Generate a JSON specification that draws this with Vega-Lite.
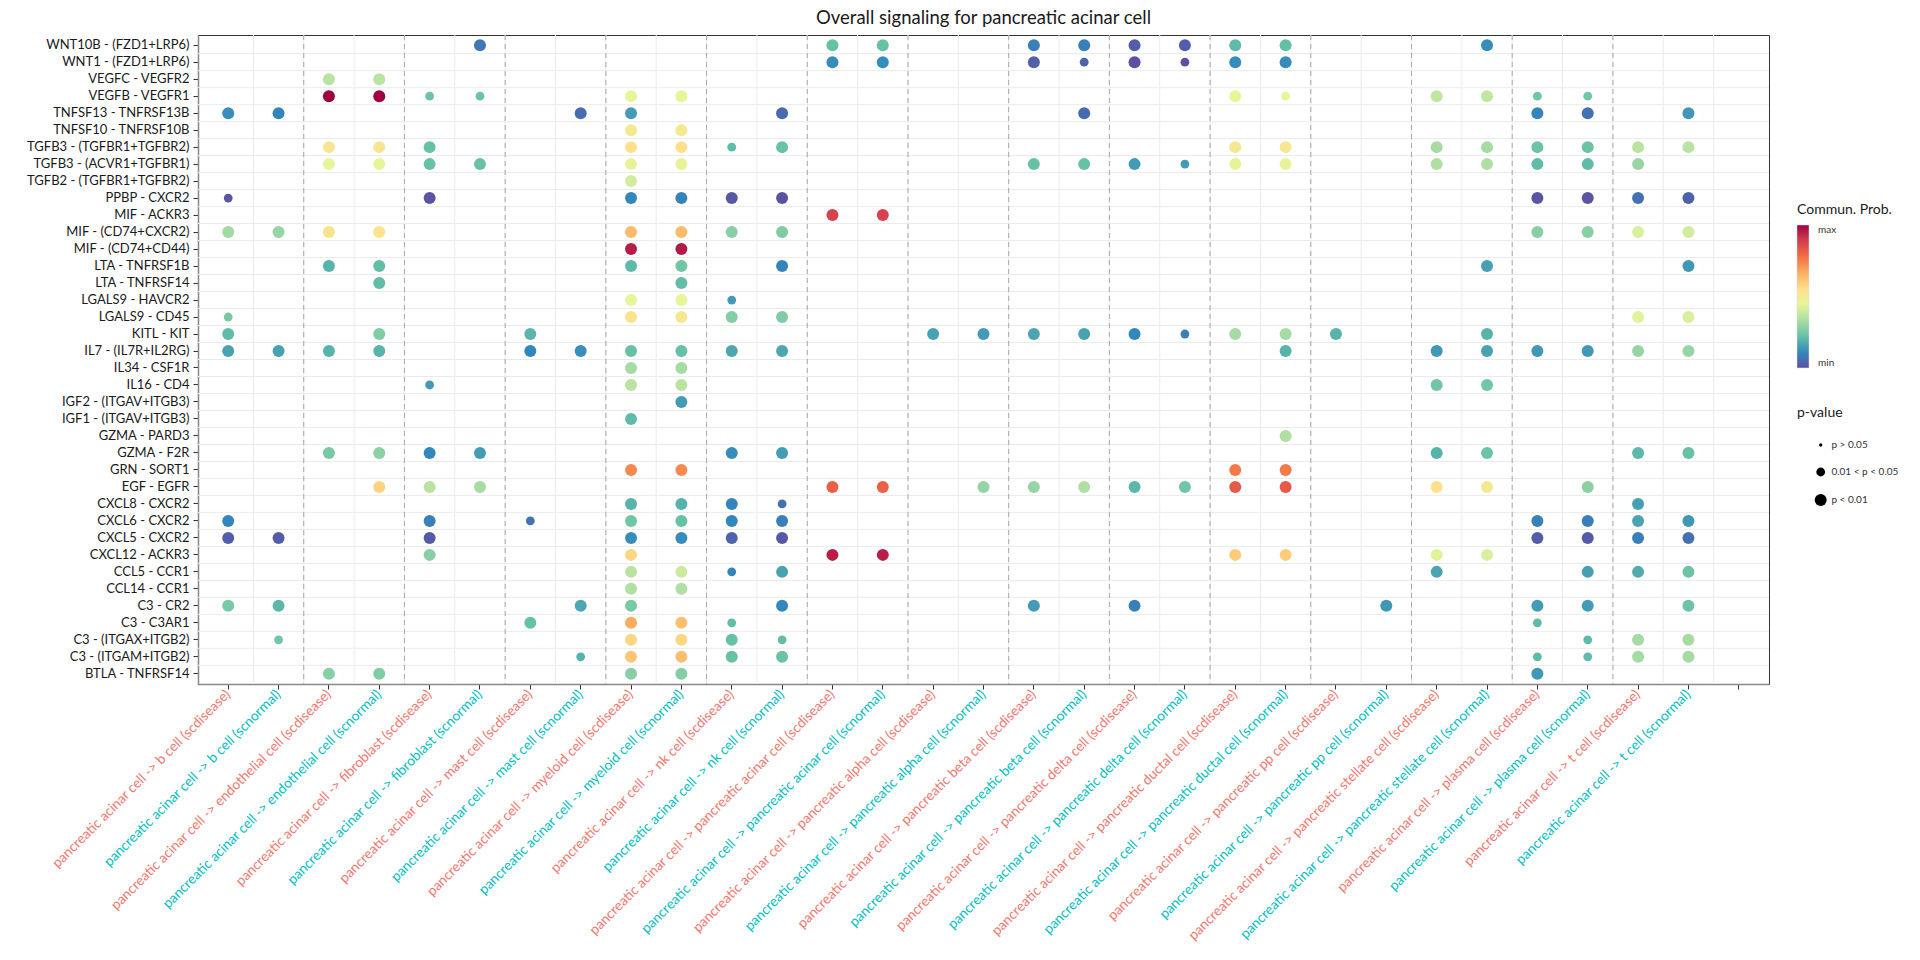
{
  "$schema": "https://vega.github.io/schema/vega-lite/v6.json",
  "width": 1571,
  "height": 649,
  "autosize": {"type": "none"},
  "padding": {"left": 198, "top": 35, "right": 151, "bottom": 276},
  "background": "white",
  "title": {
    "text": "Overall signaling for pancreatic acinar cell",
    "anchor": "middle",
    "frame": "group",
    "fontSize": 18.5,
    "fontWeight": "normal",
    "color": "#1a1a1a",
    "offset": 7
  },
  "datasets": {
    "pairs": [
      "pancreatic acinar cell -> b cell (scdisease)",
      "pancreatic acinar cell -> b cell (scnormal)",
      "pancreatic acinar cell -> endothelial cell (scdisease)",
      "pancreatic acinar cell -> endothelial cell (scnormal)",
      "pancreatic acinar cell -> fibroblast (scdisease)",
      "pancreatic acinar cell -> fibroblast (scnormal)",
      "pancreatic acinar cell -> mast cell (scdisease)",
      "pancreatic acinar cell -> mast cell (scnormal)",
      "pancreatic acinar cell -> myeloid cell (scdisease)",
      "pancreatic acinar cell -> myeloid cell (scnormal)",
      "pancreatic acinar cell -> nk cell (scdisease)",
      "pancreatic acinar cell -> nk cell (scnormal)",
      "pancreatic acinar cell -> pancreatic acinar cell (scdisease)",
      "pancreatic acinar cell -> pancreatic acinar cell (scnormal)",
      "pancreatic acinar cell -> pancreatic alpha cell (scdisease)",
      "pancreatic acinar cell -> pancreatic alpha cell (scnormal)",
      "pancreatic acinar cell -> pancreatic beta cell (scdisease)",
      "pancreatic acinar cell -> pancreatic beta cell (scnormal)",
      "pancreatic acinar cell -> pancreatic delta cell (scdisease)",
      "pancreatic acinar cell -> pancreatic delta cell (scnormal)",
      "pancreatic acinar cell -> pancreatic ductal cell (scdisease)",
      "pancreatic acinar cell -> pancreatic ductal cell (scnormal)",
      "pancreatic acinar cell -> pancreatic pp cell (scdisease)",
      "pancreatic acinar cell -> pancreatic pp cell (scnormal)",
      "pancreatic acinar cell -> pancreatic stellate cell (scdisease)",
      "pancreatic acinar cell -> pancreatic stellate cell (scnormal)",
      "pancreatic acinar cell -> plasma cell (scdisease)",
      "pancreatic acinar cell -> plasma cell (scnormal)",
      "pancreatic acinar cell -> t cell (scdisease)",
      "pancreatic acinar cell -> t cell (scnormal)"
    ],
    "groupEnds": [
      "pancreatic acinar cell -> b cell (scnormal)",
      "pancreatic acinar cell -> endothelial cell (scnormal)",
      "pancreatic acinar cell -> fibroblast (scnormal)",
      "pancreatic acinar cell -> mast cell (scnormal)",
      "pancreatic acinar cell -> myeloid cell (scnormal)",
      "pancreatic acinar cell -> nk cell (scnormal)",
      "pancreatic acinar cell -> pancreatic acinar cell (scnormal)",
      "pancreatic acinar cell -> pancreatic alpha cell (scnormal)",
      "pancreatic acinar cell -> pancreatic beta cell (scnormal)",
      "pancreatic acinar cell -> pancreatic delta cell (scnormal)",
      "pancreatic acinar cell -> pancreatic ductal cell (scnormal)",
      "pancreatic acinar cell -> pancreatic pp cell (scnormal)",
      "pancreatic acinar cell -> pancreatic stellate cell (scnormal)",
      "pancreatic acinar cell -> plasma cell (scnormal)"
    ],
    "lrRows": [
      "WNT10B - (FZD1+LRP6)", "WNT1 - (FZD1+LRP6)", "VEGFC - VEGFR2", "VEGFB - VEGFR1",
      "TNFSF13 - TNFRSF13B", "TNFSF10 - TNFRSF10B", "TGFB3 - (TGFBR1+TGFBR2)", "TGFB3 - (ACVR1+TGFBR1)",
      "TGFB2 - (TGFBR1+TGFBR2)", "PPBP - CXCR2", "MIF - ACKR3", "MIF - (CD74+CXCR2)", "MIF - (CD74+CD44)",
      "LTA - TNFRSF1B", "LTA - TNFRSF14", "LGALS9 - HAVCR2", "LGALS9 - CD45", "KITL - KIT",
      "IL7 - (IL7R+IL2RG)", "IL34 - CSF1R", "IL16 - CD4", "IGF2 - (ITGAV+ITGB3)", "IGF1 - (ITGAV+ITGB3)",
      "GZMA - PARD3", "GZMA - F2R", "GRN - SORT1", "EGF - EGFR", "CXCL8 - CXCR2", "CXCL6 - CXCR2",
      "CXCL5 - CXCR2", "CXCL12 - ACKR3", "CCL5 - CCR1", "CCL14 - CCR1", "C3 - CR2", "C3 - C3AR1",
      "C3 - (ITGAX+ITGB2)", "C3 - (ITGAM+ITGB2)"
    ],
    "bubbles": [
      {"lr": "WNT10B - (FZD1+LRP6)", "st": "pancreatic acinar cell -> fibroblast (scnormal)", "prob": 0.08, "pval": "p < 0.01"},
      {"lr": "WNT10B - (FZD1+LRP6)", "st": "pancreatic acinar cell -> pancreatic acinar cell (scdisease)", "prob": 0.222, "pval": "p < 0.01"},
      {"lr": "WNT10B - (FZD1+LRP6)", "st": "pancreatic acinar cell -> pancreatic acinar cell (scnormal)", "prob": 0.222, "pval": "p < 0.01"},
      {"lr": "WNT10B - (FZD1+LRP6)", "st": "pancreatic acinar cell -> pancreatic beta cell (scdisease)", "prob": 0.093, "pval": "p < 0.01"},
      {"lr": "WNT10B - (FZD1+LRP6)", "st": "pancreatic acinar cell -> pancreatic beta cell (scnormal)", "prob": 0.094, "pval": "p < 0.01"},
      {"lr": "WNT10B - (FZD1+LRP6)", "st": "pancreatic acinar cell -> pancreatic delta cell (scdisease)", "prob": 0.03, "pval": "p < 0.01"},
      {"lr": "WNT10B - (FZD1+LRP6)", "st": "pancreatic acinar cell -> pancreatic delta cell (scnormal)", "prob": 0.03, "pval": "p < 0.01"},
      {"lr": "WNT10B - (FZD1+LRP6)", "st": "pancreatic acinar cell -> pancreatic ductal cell (scdisease)", "prob": 0.21, "pval": "p < 0.01"},
      {"lr": "WNT10B - (FZD1+LRP6)", "st": "pancreatic acinar cell -> pancreatic ductal cell (scnormal)", "prob": 0.217, "pval": "p < 0.01"},
      {"lr": "WNT10B - (FZD1+LRP6)", "st": "pancreatic acinar cell -> pancreatic stellate cell (scnormal)", "prob": 0.119, "pval": "p < 0.01"},

      {"lr": "WNT1 - (FZD1+LRP6)", "st": "pancreatic acinar cell -> pancreatic acinar cell (scdisease)", "prob": 0.119, "pval": "p < 0.01"},
      {"lr": "WNT1 - (FZD1+LRP6)", "st": "pancreatic acinar cell -> pancreatic acinar cell (scnormal)", "prob": 0.119, "pval": "p < 0.01"},
      {"lr": "WNT1 - (FZD1+LRP6)", "st": "pancreatic acinar cell -> pancreatic beta cell (scdisease)", "prob": 0.033, "pval": "p < 0.01"},
      {"lr": "WNT1 - (FZD1+LRP6)", "st": "pancreatic acinar cell -> pancreatic beta cell (scnormal)", "prob": 0.033, "pval": "0.01 < p < 0.05"},
      {"lr": "WNT1 - (FZD1+LRP6)", "st": "pancreatic acinar cell -> pancreatic delta cell (scdisease)", "prob": 0.0, "pval": "p < 0.01"},
      {"lr": "WNT1 - (FZD1+LRP6)", "st": "pancreatic acinar cell -> pancreatic delta cell (scnormal)", "prob": 0.0, "pval": "0.01 < p < 0.05"},
      {"lr": "WNT1 - (FZD1+LRP6)", "st": "pancreatic acinar cell -> pancreatic ductal cell (scdisease)", "prob": 0.119, "pval": "p < 0.01"},
      {"lr": "WNT1 - (FZD1+LRP6)", "st": "pancreatic acinar cell -> pancreatic ductal cell (scnormal)", "prob": 0.119, "pval": "p < 0.01"},

      {"lr": "VEGFC - VEGFR2", "st": "pancreatic acinar cell -> endothelial cell (scdisease)", "prob": 0.36, "pval": "p < 0.01"},
      {"lr": "VEGFC - VEGFR2", "st": "pancreatic acinar cell -> endothelial cell (scnormal)", "prob": 0.36, "pval": "p < 0.01"},

      {"lr": "VEGFB - VEGFR1", "st": "pancreatic acinar cell -> endothelial cell (scdisease)", "prob": 1.0, "pval": "p < 0.01"},
      {"lr": "VEGFB - VEGFR1", "st": "pancreatic acinar cell -> endothelial cell (scnormal)", "prob": 1.0, "pval": "p < 0.01"},
      {"lr": "VEGFB - VEGFR1", "st": "pancreatic acinar cell -> fibroblast (scdisease)", "prob": 0.235, "pval": "0.01 < p < 0.05"},
      {"lr": "VEGFB - VEGFR1", "st": "pancreatic acinar cell -> fibroblast (scnormal)", "prob": 0.232, "pval": "0.01 < p < 0.05"},
      {"lr": "VEGFB - VEGFR1", "st": "pancreatic acinar cell -> myeloid cell (scdisease)", "prob": 0.444, "pval": "p < 0.01"},
      {"lr": "VEGFB - VEGFR1", "st": "pancreatic acinar cell -> myeloid cell (scnormal)", "prob": 0.444, "pval": "p < 0.01"},
      {"lr": "VEGFB - VEGFR1", "st": "pancreatic acinar cell -> pancreatic ductal cell (scdisease)", "prob": 0.444, "pval": "p < 0.01"},
      {"lr": "VEGFB - VEGFR1", "st": "pancreatic acinar cell -> pancreatic ductal cell (scnormal)", "prob": 0.444, "pval": "0.01 < p < 0.05"},
      {"lr": "VEGFB - VEGFR1", "st": "pancreatic acinar cell -> pancreatic stellate cell (scdisease)", "prob": 0.373, "pval": "p < 0.01"},
      {"lr": "VEGFB - VEGFR1", "st": "pancreatic acinar cell -> pancreatic stellate cell (scnormal)", "prob": 0.373, "pval": "p < 0.01"},
      {"lr": "VEGFB - VEGFR1", "st": "pancreatic acinar cell -> plasma cell (scdisease)", "prob": 0.238, "pval": "0.01 < p < 0.05"},
      {"lr": "VEGFB - VEGFR1", "st": "pancreatic acinar cell -> plasma cell (scnormal)", "prob": 0.243, "pval": "0.01 < p < 0.05"},

      {"lr": "TNFSF13 - TNFRSF13B", "st": "pancreatic acinar cell -> b cell (scdisease)", "prob": 0.125, "pval": "p < 0.01"},
      {"lr": "TNFSF13 - TNFRSF13B", "st": "pancreatic acinar cell -> b cell (scnormal)", "prob": 0.105, "pval": "p < 0.01"},
      {"lr": "TNFSF13 - TNFRSF13B", "st": "pancreatic acinar cell -> mast cell (scnormal)", "prob": 0.058, "pval": "p < 0.01"},
      {"lr": "TNFSF13 - TNFRSF13B", "st": "pancreatic acinar cell -> myeloid cell (scdisease)", "prob": 0.148, "pval": "p < 0.01"},
      {"lr": "TNFSF13 - TNFRSF13B", "st": "pancreatic acinar cell -> nk cell (scnormal)", "prob": 0.055, "pval": "p < 0.01"},
      {"lr": "TNFSF13 - TNFRSF13B", "st": "pancreatic acinar cell -> pancreatic beta cell (scnormal)", "prob": 0.052, "pval": "p < 0.01"},
      {"lr": "TNFSF13 - TNFRSF13B", "st": "pancreatic acinar cell -> plasma cell (scdisease)", "prob": 0.105, "pval": "p < 0.01"},
      {"lr": "TNFSF13 - TNFRSF13B", "st": "pancreatic acinar cell -> plasma cell (scnormal)", "prob": 0.064, "pval": "p < 0.01"},
      {"lr": "TNFSF13 - TNFRSF13B", "st": "pancreatic acinar cell -> t cell (scnormal)", "prob": 0.142, "pval": "p < 0.01"},

      {"lr": "TNFSF10 - TNFRSF10B", "st": "pancreatic acinar cell -> myeloid cell (scdisease)", "prob": 0.51, "pval": "p < 0.01"},
      {"lr": "TNFSF10 - TNFRSF10B", "st": "pancreatic acinar cell -> myeloid cell (scnormal)", "prob": 0.51, "pval": "p < 0.01"},

      {"lr": "TGFB3 - (TGFBR1+TGFBR2)", "st": "pancreatic acinar cell -> endothelial cell (scdisease)", "prob": 0.523, "pval": "p < 0.01"},
      {"lr": "TGFB3 - (TGFBR1+TGFBR2)", "st": "pancreatic acinar cell -> endothelial cell (scnormal)", "prob": 0.523, "pval": "p < 0.01"},
      {"lr": "TGFB3 - (TGFBR1+TGFBR2)", "st": "pancreatic acinar cell -> fibroblast (scdisease)", "prob": 0.222, "pval": "p < 0.01"},
      {"lr": "TGFB3 - (TGFBR1+TGFBR2)", "st": "pancreatic acinar cell -> myeloid cell (scdisease)", "prob": 0.556, "pval": "p < 0.01"},
      {"lr": "TGFB3 - (TGFBR1+TGFBR2)", "st": "pancreatic acinar cell -> myeloid cell (scnormal)", "prob": 0.556, "pval": "p < 0.01"},
      {"lr": "TGFB3 - (TGFBR1+TGFBR2)", "st": "pancreatic acinar cell -> nk cell (scdisease)", "prob": 0.212, "pval": "0.01 < p < 0.05"},
      {"lr": "TGFB3 - (TGFBR1+TGFBR2)", "st": "pancreatic acinar cell -> nk cell (scnormal)", "prob": 0.225, "pval": "p < 0.01"},
      {"lr": "TGFB3 - (TGFBR1+TGFBR2)", "st": "pancreatic acinar cell -> pancreatic ductal cell (scdisease)", "prob": 0.513, "pval": "p < 0.01"},
      {"lr": "TGFB3 - (TGFBR1+TGFBR2)", "st": "pancreatic acinar cell -> pancreatic ductal cell (scnormal)", "prob": 0.513, "pval": "p < 0.01"},
      {"lr": "TGFB3 - (TGFBR1+TGFBR2)", "st": "pancreatic acinar cell -> pancreatic stellate cell (scdisease)", "prob": 0.325, "pval": "p < 0.01"},
      {"lr": "TGFB3 - (TGFBR1+TGFBR2)", "st": "pancreatic acinar cell -> pancreatic stellate cell (scnormal)", "prob": 0.325, "pval": "p < 0.01"},
      {"lr": "TGFB3 - (TGFBR1+TGFBR2)", "st": "pancreatic acinar cell -> plasma cell (scdisease)", "prob": 0.232, "pval": "p < 0.01"},
      {"lr": "TGFB3 - (TGFBR1+TGFBR2)", "st": "pancreatic acinar cell -> plasma cell (scnormal)", "prob": 0.232, "pval": "p < 0.01"},
      {"lr": "TGFB3 - (TGFBR1+TGFBR2)", "st": "pancreatic acinar cell -> t cell (scdisease)", "prob": 0.361, "pval": "p < 0.01"},
      {"lr": "TGFB3 - (TGFBR1+TGFBR2)", "st": "pancreatic acinar cell -> t cell (scnormal)", "prob": 0.36, "pval": "p < 0.01"},

      {"lr": "TGFB3 - (ACVR1+TGFBR1)", "st": "pancreatic acinar cell -> endothelial cell (scdisease)", "prob": 0.45, "pval": "p < 0.01"},
      {"lr": "TGFB3 - (ACVR1+TGFBR1)", "st": "pancreatic acinar cell -> endothelial cell (scnormal)", "prob": 0.45, "pval": "p < 0.01"},
      {"lr": "TGFB3 - (ACVR1+TGFBR1)", "st": "pancreatic acinar cell -> fibroblast (scdisease)", "prob": 0.222, "pval": "p < 0.01"},
      {"lr": "TGFB3 - (ACVR1+TGFBR1)", "st": "pancreatic acinar cell -> fibroblast (scnormal)", "prob": 0.225, "pval": "p < 0.01"},
      {"lr": "TGFB3 - (ACVR1+TGFBR1)", "st": "pancreatic acinar cell -> myeloid cell (scdisease)", "prob": 0.455, "pval": "p < 0.01"},
      {"lr": "TGFB3 - (ACVR1+TGFBR1)", "st": "pancreatic acinar cell -> myeloid cell (scnormal)", "prob": 0.455, "pval": "p < 0.01"},
      {"lr": "TGFB3 - (ACVR1+TGFBR1)", "st": "pancreatic acinar cell -> pancreatic beta cell (scdisease)", "prob": 0.222, "pval": "p < 0.01"},
      {"lr": "TGFB3 - (ACVR1+TGFBR1)", "st": "pancreatic acinar cell -> pancreatic beta cell (scnormal)", "prob": 0.222, "pval": "p < 0.01"},
      {"lr": "TGFB3 - (ACVR1+TGFBR1)", "st": "pancreatic acinar cell -> pancreatic delta cell (scdisease)", "prob": 0.148, "pval": "p < 0.01"},
      {"lr": "TGFB3 - (ACVR1+TGFBR1)", "st": "pancreatic acinar cell -> pancreatic delta cell (scnormal)", "prob": 0.148, "pval": "0.01 < p < 0.05"},
      {"lr": "TGFB3 - (ACVR1+TGFBR1)", "st": "pancreatic acinar cell -> pancreatic ductal cell (scdisease)", "prob": 0.455, "pval": "p < 0.01"},
      {"lr": "TGFB3 - (ACVR1+TGFBR1)", "st": "pancreatic acinar cell -> pancreatic ductal cell (scnormal)", "prob": 0.455, "pval": "p < 0.01"},
      {"lr": "TGFB3 - (ACVR1+TGFBR1)", "st": "pancreatic acinar cell -> pancreatic stellate cell (scdisease)", "prob": 0.343, "pval": "p < 0.01"},
      {"lr": "TGFB3 - (ACVR1+TGFBR1)", "st": "pancreatic acinar cell -> pancreatic stellate cell (scnormal)", "prob": 0.343, "pval": "p < 0.01"},
      {"lr": "TGFB3 - (ACVR1+TGFBR1)", "st": "pancreatic acinar cell -> plasma cell (scdisease)", "prob": 0.21, "pval": "p < 0.01"},
      {"lr": "TGFB3 - (ACVR1+TGFBR1)", "st": "pancreatic acinar cell -> plasma cell (scnormal)", "prob": 0.21, "pval": "p < 0.01"},
      {"lr": "TGFB3 - (ACVR1+TGFBR1)", "st": "pancreatic acinar cell -> t cell (scdisease)", "prob": 0.302, "pval": "p < 0.01"},

      {"lr": "TGFB2 - (TGFBR1+TGFBR2)", "st": "pancreatic acinar cell -> myeloid cell (scdisease)", "prob": 0.403, "pval": "p < 0.01"},

      {"lr": "PPBP - CXCR2", "st": "pancreatic acinar cell -> b cell (scdisease)", "prob": 0.01, "pval": "0.01 < p < 0.05"},
      {"lr": "PPBP - CXCR2", "st": "pancreatic acinar cell -> fibroblast (scdisease)", "prob": 0.01, "pval": "p < 0.01"},
      {"lr": "PPBP - CXCR2", "st": "pancreatic acinar cell -> myeloid cell (scdisease)", "prob": 0.11, "pval": "p < 0.01"},
      {"lr": "PPBP - CXCR2", "st": "pancreatic acinar cell -> myeloid cell (scnormal)", "prob": 0.1, "pval": "p < 0.01"},
      {"lr": "PPBP - CXCR2", "st": "pancreatic acinar cell -> nk cell (scdisease)", "prob": 0.015, "pval": "p < 0.01"},
      {"lr": "PPBP - CXCR2", "st": "pancreatic acinar cell -> nk cell (scnormal)", "prob": 0.005, "pval": "p < 0.01"},
      {"lr": "PPBP - CXCR2", "st": "pancreatic acinar cell -> plasma cell (scdisease)", "prob": 0.01, "pval": "p < 0.01"},
      {"lr": "PPBP - CXCR2", "st": "pancreatic acinar cell -> plasma cell (scnormal)", "prob": 0.01, "pval": "p < 0.01"},
      {"lr": "PPBP - CXCR2", "st": "pancreatic acinar cell -> t cell (scdisease)", "prob": 0.064, "pval": "p < 0.01"},
      {"lr": "PPBP - CXCR2", "st": "pancreatic acinar cell -> t cell (scnormal)", "prob": 0.035, "pval": "p < 0.01"},

      {"lr": "MIF - ACKR3", "st": "pancreatic acinar cell -> pancreatic acinar cell (scdisease)", "prob": 0.879, "pval": "p < 0.01"},
      {"lr": "MIF - ACKR3", "st": "pancreatic acinar cell -> pancreatic acinar cell (scnormal)", "prob": 0.879, "pval": "p < 0.01"},

      {"lr": "MIF - (CD74+CXCR2)", "st": "pancreatic acinar cell -> b cell (scdisease)", "prob": 0.32, "pval": "p < 0.01"},
      {"lr": "MIF - (CD74+CXCR2)", "st": "pancreatic acinar cell -> b cell (scnormal)", "prob": 0.3, "pval": "p < 0.01"},
      {"lr": "MIF - (CD74+CXCR2)", "st": "pancreatic acinar cell -> endothelial cell (scdisease)", "prob": 0.54, "pval": "p < 0.01"},
      {"lr": "MIF - (CD74+CXCR2)", "st": "pancreatic acinar cell -> endothelial cell (scnormal)", "prob": 0.54, "pval": "p < 0.01"},
      {"lr": "MIF - (CD74+CXCR2)", "st": "pancreatic acinar cell -> myeloid cell (scdisease)", "prob": 0.64, "pval": "p < 0.01"},
      {"lr": "MIF - (CD74+CXCR2)", "st": "pancreatic acinar cell -> myeloid cell (scnormal)", "prob": 0.64, "pval": "p < 0.01"},
      {"lr": "MIF - (CD74+CXCR2)", "st": "pancreatic acinar cell -> nk cell (scdisease)", "prob": 0.277, "pval": "p < 0.01"},
      {"lr": "MIF - (CD74+CXCR2)", "st": "pancreatic acinar cell -> nk cell (scnormal)", "prob": 0.264, "pval": "p < 0.01"},
      {"lr": "MIF - (CD74+CXCR2)", "st": "pancreatic acinar cell -> plasma cell (scdisease)", "prob": 0.277, "pval": "p < 0.01"},
      {"lr": "MIF - (CD74+CXCR2)", "st": "pancreatic acinar cell -> plasma cell (scnormal)", "prob": 0.277, "pval": "p < 0.01"},
      {"lr": "MIF - (CD74+CXCR2)", "st": "pancreatic acinar cell -> t cell (scdisease)", "prob": 0.418, "pval": "p < 0.01"},
      {"lr": "MIF - (CD74+CXCR2)", "st": "pancreatic acinar cell -> t cell (scnormal)", "prob": 0.403, "pval": "p < 0.01"},

      {"lr": "MIF - (CD74+CD44)", "st": "pancreatic acinar cell -> myeloid cell (scdisease)", "prob": 0.95, "pval": "p < 0.01"},
      {"lr": "MIF - (CD74+CD44)", "st": "pancreatic acinar cell -> myeloid cell (scnormal)", "prob": 0.955, "pval": "p < 0.01"},

      {"lr": "LTA - TNFRSF1B", "st": "pancreatic acinar cell -> endothelial cell (scdisease)", "prob": 0.193, "pval": "p < 0.01"},
      {"lr": "LTA - TNFRSF1B", "st": "pancreatic acinar cell -> endothelial cell (scnormal)", "prob": 0.215, "pval": "p < 0.01"},
      {"lr": "LTA - TNFRSF1B", "st": "pancreatic acinar cell -> myeloid cell (scdisease)", "prob": 0.205, "pval": "p < 0.01"},
      {"lr": "LTA - TNFRSF1B", "st": "pancreatic acinar cell -> myeloid cell (scnormal)", "prob": 0.24, "pval": "p < 0.01"},
      {"lr": "LTA - TNFRSF1B", "st": "pancreatic acinar cell -> nk cell (scnormal)", "prob": 0.1, "pval": "p < 0.01"},
      {"lr": "LTA - TNFRSF1B", "st": "pancreatic acinar cell -> pancreatic stellate cell (scnormal)", "prob": 0.155, "pval": "p < 0.01"},
      {"lr": "LTA - TNFRSF1B", "st": "pancreatic acinar cell -> t cell (scnormal)", "prob": 0.142, "pval": "p < 0.01"},

      {"lr": "LTA - TNFRSF14", "st": "pancreatic acinar cell -> endothelial cell (scnormal)", "prob": 0.212, "pval": "p < 0.01"},
      {"lr": "LTA - TNFRSF14", "st": "pancreatic acinar cell -> myeloid cell (scnormal)", "prob": 0.212, "pval": "p < 0.01"},

      {"lr": "LGALS9 - HAVCR2", "st": "pancreatic acinar cell -> myeloid cell (scdisease)", "prob": 0.444, "pval": "p < 0.01"},
      {"lr": "LGALS9 - HAVCR2", "st": "pancreatic acinar cell -> myeloid cell (scnormal)", "prob": 0.444, "pval": "p < 0.01"},
      {"lr": "LGALS9 - HAVCR2", "st": "pancreatic acinar cell -> nk cell (scdisease)", "prob": 0.148, "pval": "0.01 < p < 0.05"},

      {"lr": "LGALS9 - CD45", "st": "pancreatic acinar cell -> b cell (scdisease)", "prob": 0.25, "pval": "0.01 < p < 0.05"},
      {"lr": "LGALS9 - CD45", "st": "pancreatic acinar cell -> myeloid cell (scdisease)", "prob": 0.54, "pval": "p < 0.01"},
      {"lr": "LGALS9 - CD45", "st": "pancreatic acinar cell -> myeloid cell (scnormal)", "prob": 0.52, "pval": "p < 0.01"},
      {"lr": "LGALS9 - CD45", "st": "pancreatic acinar cell -> nk cell (scdisease)", "prob": 0.27, "pval": "p < 0.01"},
      {"lr": "LGALS9 - CD45", "st": "pancreatic acinar cell -> nk cell (scnormal)", "prob": 0.264, "pval": "p < 0.01"},
      {"lr": "LGALS9 - CD45", "st": "pancreatic acinar cell -> t cell (scdisease)", "prob": 0.433, "pval": "p < 0.01"},
      {"lr": "LGALS9 - CD45", "st": "pancreatic acinar cell -> t cell (scnormal)", "prob": 0.418, "pval": "p < 0.01"},

      {"lr": "KITL - KIT", "st": "pancreatic acinar cell -> b cell (scdisease)", "prob": 0.21, "pval": "p < 0.01"},
      {"lr": "KITL - KIT", "st": "pancreatic acinar cell -> endothelial cell (scnormal)", "prob": 0.264, "pval": "p < 0.01"},
      {"lr": "KITL - KIT", "st": "pancreatic acinar cell -> mast cell (scdisease)", "prob": 0.2, "pval": "p < 0.01"},
      {"lr": "KITL - KIT", "st": "pancreatic acinar cell -> pancreatic alpha cell (scdisease)", "prob": 0.161, "pval": "p < 0.01"},
      {"lr": "KITL - KIT", "st": "pancreatic acinar cell -> pancreatic alpha cell (scnormal)", "prob": 0.148, "pval": "p < 0.01"},
      {"lr": "KITL - KIT", "st": "pancreatic acinar cell -> pancreatic beta cell (scdisease)", "prob": 0.165, "pval": "p < 0.01"},
      {"lr": "KITL - KIT", "st": "pancreatic acinar cell -> pancreatic beta cell (scnormal)", "prob": 0.161, "pval": "p < 0.01"},
      {"lr": "KITL - KIT", "st": "pancreatic acinar cell -> pancreatic delta cell (scdisease)", "prob": 0.11, "pval": "p < 0.01"},
      {"lr": "KITL - KIT", "st": "pancreatic acinar cell -> pancreatic delta cell (scnormal)", "prob": 0.094, "pval": "0.01 < p < 0.05"},
      {"lr": "KITL - KIT", "st": "pancreatic acinar cell -> pancreatic ductal cell (scdisease)", "prob": 0.325, "pval": "p < 0.01"},
      {"lr": "KITL - KIT", "st": "pancreatic acinar cell -> pancreatic ductal cell (scnormal)", "prob": 0.325, "pval": "p < 0.01"},
      {"lr": "KITL - KIT", "st": "pancreatic acinar cell -> pancreatic pp cell (scdisease)", "prob": 0.193, "pval": "p < 0.01"},
      {"lr": "KITL - KIT", "st": "pancreatic acinar cell -> pancreatic stellate cell (scnormal)", "prob": 0.193, "pval": "p < 0.01"},

      {"lr": "IL7 - (IL7R+IL2RG)", "st": "pancreatic acinar cell -> b cell (scdisease)", "prob": 0.16, "pval": "p < 0.01"},
      {"lr": "IL7 - (IL7R+IL2RG)", "st": "pancreatic acinar cell -> b cell (scnormal)", "prob": 0.16, "pval": "p < 0.01"},
      {"lr": "IL7 - (IL7R+IL2RG)", "st": "pancreatic acinar cell -> endothelial cell (scdisease)", "prob": 0.193, "pval": "p < 0.01"},
      {"lr": "IL7 - (IL7R+IL2RG)", "st": "pancreatic acinar cell -> endothelial cell (scnormal)", "prob": 0.195, "pval": "p < 0.01"},
      {"lr": "IL7 - (IL7R+IL2RG)", "st": "pancreatic acinar cell -> mast cell (scdisease)", "prob": 0.11, "pval": "p < 0.01"},
      {"lr": "IL7 - (IL7R+IL2RG)", "st": "pancreatic acinar cell -> mast cell (scnormal)", "prob": 0.125, "pval": "p < 0.01"},
      {"lr": "IL7 - (IL7R+IL2RG)", "st": "pancreatic acinar cell -> myeloid cell (scdisease)", "prob": 0.222, "pval": "p < 0.01"},
      {"lr": "IL7 - (IL7R+IL2RG)", "st": "pancreatic acinar cell -> myeloid cell (scnormal)", "prob": 0.222, "pval": "p < 0.01"},
      {"lr": "IL7 - (IL7R+IL2RG)", "st": "pancreatic acinar cell -> nk cell (scdisease)", "prob": 0.17, "pval": "p < 0.01"},
      {"lr": "IL7 - (IL7R+IL2RG)", "st": "pancreatic acinar cell -> nk cell (scnormal)", "prob": 0.17, "pval": "p < 0.01"},
      {"lr": "IL7 - (IL7R+IL2RG)", "st": "pancreatic acinar cell -> pancreatic ductal cell (scnormal)", "prob": 0.193, "pval": "p < 0.01"},
      {"lr": "IL7 - (IL7R+IL2RG)", "st": "pancreatic acinar cell -> pancreatic stellate cell (scdisease)", "prob": 0.142, "pval": "p < 0.01"},
      {"lr": "IL7 - (IL7R+IL2RG)", "st": "pancreatic acinar cell -> pancreatic stellate cell (scnormal)", "prob": 0.161, "pval": "p < 0.01"},
      {"lr": "IL7 - (IL7R+IL2RG)", "st": "pancreatic acinar cell -> plasma cell (scdisease)", "prob": 0.142, "pval": "p < 0.01"},
      {"lr": "IL7 - (IL7R+IL2RG)", "st": "pancreatic acinar cell -> plasma cell (scnormal)", "prob": 0.142, "pval": "p < 0.01"},
      {"lr": "IL7 - (IL7R+IL2RG)", "st": "pancreatic acinar cell -> t cell (scdisease)", "prob": 0.302, "pval": "p < 0.01"},
      {"lr": "IL7 - (IL7R+IL2RG)", "st": "pancreatic acinar cell -> t cell (scnormal)", "prob": 0.302, "pval": "p < 0.01"},

      {"lr": "IL34 - CSF1R", "st": "pancreatic acinar cell -> myeloid cell (scdisease)", "prob": 0.325, "pval": "p < 0.01"},
      {"lr": "IL34 - CSF1R", "st": "pancreatic acinar cell -> myeloid cell (scnormal)", "prob": 0.325, "pval": "p < 0.01"},

      {"lr": "IL16 - CD4", "st": "pancreatic acinar cell -> fibroblast (scdisease)", "prob": 0.148, "pval": "0.01 < p < 0.05"},
      {"lr": "IL16 - CD4", "st": "pancreatic acinar cell -> myeloid cell (scdisease)", "prob": 0.361, "pval": "p < 0.01"},
      {"lr": "IL16 - CD4", "st": "pancreatic acinar cell -> myeloid cell (scnormal)", "prob": 0.361, "pval": "p < 0.01"},
      {"lr": "IL16 - CD4", "st": "pancreatic acinar cell -> pancreatic stellate cell (scdisease)", "prob": 0.238, "pval": "p < 0.01"},
      {"lr": "IL16 - CD4", "st": "pancreatic acinar cell -> pancreatic stellate cell (scnormal)", "prob": 0.238, "pval": "p < 0.01"},

      {"lr": "IGF2 - (ITGAV+ITGB3)", "st": "pancreatic acinar cell -> myeloid cell (scnormal)", "prob": 0.148, "pval": "p < 0.01"},
      {"lr": "IGF1 - (ITGAV+ITGB3)", "st": "pancreatic acinar cell -> myeloid cell (scdisease)", "prob": 0.21, "pval": "p < 0.01"},
      {"lr": "GZMA - PARD3", "st": "pancreatic acinar cell -> pancreatic ductal cell (scnormal)", "prob": 0.343, "pval": "p < 0.01"},

      {"lr": "GZMA - F2R", "st": "pancreatic acinar cell -> endothelial cell (scdisease)", "prob": 0.251, "pval": "p < 0.01"},
      {"lr": "GZMA - F2R", "st": "pancreatic acinar cell -> endothelial cell (scnormal)", "prob": 0.283, "pval": "p < 0.01"},
      {"lr": "GZMA - F2R", "st": "pancreatic acinar cell -> fibroblast (scdisease)", "prob": 0.11, "pval": "p < 0.01"},
      {"lr": "GZMA - F2R", "st": "pancreatic acinar cell -> fibroblast (scnormal)", "prob": 0.148, "pval": "p < 0.01"},
      {"lr": "GZMA - F2R", "st": "pancreatic acinar cell -> nk cell (scdisease)", "prob": 0.12, "pval": "p < 0.01"},
      {"lr": "GZMA - F2R", "st": "pancreatic acinar cell -> nk cell (scnormal)", "prob": 0.148, "pval": "p < 0.01"},
      {"lr": "GZMA - F2R", "st": "pancreatic acinar cell -> pancreatic stellate cell (scdisease)", "prob": 0.193, "pval": "p < 0.01"},
      {"lr": "GZMA - F2R", "st": "pancreatic acinar cell -> pancreatic stellate cell (scnormal)", "prob": 0.232, "pval": "p < 0.01"},
      {"lr": "GZMA - F2R", "st": "pancreatic acinar cell -> t cell (scdisease)", "prob": 0.203, "pval": "p < 0.01"},
      {"lr": "GZMA - F2R", "st": "pancreatic acinar cell -> t cell (scnormal)", "prob": 0.222, "pval": "p < 0.01"},

      {"lr": "GRN - SORT1", "st": "pancreatic acinar cell -> myeloid cell (scdisease)", "prob": 0.728, "pval": "p < 0.01"},
      {"lr": "GRN - SORT1", "st": "pancreatic acinar cell -> myeloid cell (scnormal)", "prob": 0.73, "pval": "p < 0.01"},
      {"lr": "GRN - SORT1", "st": "pancreatic acinar cell -> pancreatic ductal cell (scdisease)", "prob": 0.756, "pval": "p < 0.01"},
      {"lr": "GRN - SORT1", "st": "pancreatic acinar cell -> pancreatic ductal cell (scnormal)", "prob": 0.756, "pval": "p < 0.01"},

      {"lr": "EGF - EGFR", "st": "pancreatic acinar cell -> endothelial cell (scnormal)", "prob": 0.587, "pval": "p < 0.01"},
      {"lr": "EGF - EGFR", "st": "pancreatic acinar cell -> fibroblast (scdisease)", "prob": 0.361, "pval": "p < 0.01"},
      {"lr": "EGF - EGFR", "st": "pancreatic acinar cell -> fibroblast (scnormal)", "prob": 0.325, "pval": "p < 0.01"},
      {"lr": "EGF - EGFR", "st": "pancreatic acinar cell -> pancreatic acinar cell (scdisease)", "prob": 0.809, "pval": "p < 0.01"},
      {"lr": "EGF - EGFR", "st": "pancreatic acinar cell -> pancreatic acinar cell (scnormal)", "prob": 0.809, "pval": "p < 0.01"},
      {"lr": "EGF - EGFR", "st": "pancreatic acinar cell -> pancreatic alpha cell (scnormal)", "prob": 0.296, "pval": "p < 0.01"},
      {"lr": "EGF - EGFR", "st": "pancreatic acinar cell -> pancreatic beta cell (scdisease)", "prob": 0.302, "pval": "p < 0.01"},
      {"lr": "EGF - EGFR", "st": "pancreatic acinar cell -> pancreatic beta cell (scnormal)", "prob": 0.343, "pval": "p < 0.01"},
      {"lr": "EGF - EGFR", "st": "pancreatic acinar cell -> pancreatic delta cell (scdisease)", "prob": 0.203, "pval": "p < 0.01"},
      {"lr": "EGF - EGFR", "st": "pancreatic acinar cell -> pancreatic delta cell (scnormal)", "prob": 0.238, "pval": "p < 0.01"},
      {"lr": "EGF - EGFR", "st": "pancreatic acinar cell -> pancreatic ductal cell (scdisease)", "prob": 0.822, "pval": "p < 0.01"},
      {"lr": "EGF - EGFR", "st": "pancreatic acinar cell -> pancreatic ductal cell (scnormal)", "prob": 0.822, "pval": "p < 0.01"},
      {"lr": "EGF - EGFR", "st": "pancreatic acinar cell -> pancreatic stellate cell (scdisease)", "prob": 0.556, "pval": "p < 0.01"},
      {"lr": "EGF - EGFR", "st": "pancreatic acinar cell -> pancreatic stellate cell (scnormal)", "prob": 0.51, "pval": "p < 0.01"},
      {"lr": "EGF - EGFR", "st": "pancreatic acinar cell -> plasma cell (scnormal)", "prob": 0.283, "pval": "p < 0.01"},

      {"lr": "CXCL8 - CXCR2", "st": "pancreatic acinar cell -> myeloid cell (scdisease)", "prob": 0.193, "pval": "p < 0.01"},
      {"lr": "CXCL8 - CXCR2", "st": "pancreatic acinar cell -> myeloid cell (scnormal)", "prob": 0.19, "pval": "p < 0.01"},
      {"lr": "CXCL8 - CXCR2", "st": "pancreatic acinar cell -> nk cell (scdisease)", "prob": 0.105, "pval": "p < 0.01"},
      {"lr": "CXCL8 - CXCR2", "st": "pancreatic acinar cell -> nk cell (scnormal)", "prob": 0.065, "pval": "0.01 < p < 0.05"},
      {"lr": "CXCL8 - CXCR2", "st": "pancreatic acinar cell -> t cell (scdisease)", "prob": 0.155, "pval": "p < 0.01"},

      {"lr": "CXCL6 - CXCR2", "st": "pancreatic acinar cell -> b cell (scdisease)", "prob": 0.105, "pval": "p < 0.01"},
      {"lr": "CXCL6 - CXCR2", "st": "pancreatic acinar cell -> fibroblast (scdisease)", "prob": 0.094, "pval": "p < 0.01"},
      {"lr": "CXCL6 - CXCR2", "st": "pancreatic acinar cell -> mast cell (scdisease)", "prob": 0.07, "pval": "0.01 < p < 0.05"},
      {"lr": "CXCL6 - CXCR2", "st": "pancreatic acinar cell -> myeloid cell (scdisease)", "prob": 0.238, "pval": "p < 0.01"},
      {"lr": "CXCL6 - CXCR2", "st": "pancreatic acinar cell -> myeloid cell (scnormal)", "prob": 0.222, "pval": "p < 0.01"},
      {"lr": "CXCL6 - CXCR2", "st": "pancreatic acinar cell -> nk cell (scdisease)", "prob": 0.11, "pval": "p < 0.01"},
      {"lr": "CXCL6 - CXCR2", "st": "pancreatic acinar cell -> nk cell (scnormal)", "prob": 0.093, "pval": "p < 0.01"},
      {"lr": "CXCL6 - CXCR2", "st": "pancreatic acinar cell -> plasma cell (scdisease)", "prob": 0.093, "pval": "p < 0.01"},
      {"lr": "CXCL6 - CXCR2", "st": "pancreatic acinar cell -> plasma cell (scnormal)", "prob": 0.093, "pval": "p < 0.01"},
      {"lr": "CXCL6 - CXCR2", "st": "pancreatic acinar cell -> t cell (scdisease)", "prob": 0.165, "pval": "p < 0.01"},
      {"lr": "CXCL6 - CXCR2", "st": "pancreatic acinar cell -> t cell (scnormal)", "prob": 0.142, "pval": "p < 0.01"},

      {"lr": "CXCL5 - CXCR2", "st": "pancreatic acinar cell -> b cell (scdisease)", "prob": 0.03, "pval": "p < 0.01"},
      {"lr": "CXCL5 - CXCR2", "st": "pancreatic acinar cell -> b cell (scnormal)", "prob": 0.025, "pval": "p < 0.01"},
      {"lr": "CXCL5 - CXCR2", "st": "pancreatic acinar cell -> fibroblast (scdisease)", "prob": 0.025, "pval": "p < 0.01"},
      {"lr": "CXCL5 - CXCR2", "st": "pancreatic acinar cell -> myeloid cell (scdisease)", "prob": 0.12, "pval": "p < 0.01"},
      {"lr": "CXCL5 - CXCR2", "st": "pancreatic acinar cell -> myeloid cell (scnormal)", "prob": 0.12, "pval": "p < 0.01"},
      {"lr": "CXCL5 - CXCR2", "st": "pancreatic acinar cell -> nk cell (scdisease)", "prob": 0.04, "pval": "p < 0.01"},
      {"lr": "CXCL5 - CXCR2", "st": "pancreatic acinar cell -> nk cell (scnormal)", "prob": 0.02, "pval": "p < 0.01"},
      {"lr": "CXCL5 - CXCR2", "st": "pancreatic acinar cell -> plasma cell (scdisease)", "prob": 0.03, "pval": "p < 0.01"},
      {"lr": "CXCL5 - CXCR2", "st": "pancreatic acinar cell -> plasma cell (scnormal)", "prob": 0.02, "pval": "p < 0.01"},
      {"lr": "CXCL5 - CXCR2", "st": "pancreatic acinar cell -> t cell (scdisease)", "prob": 0.093, "pval": "p < 0.01"},
      {"lr": "CXCL5 - CXCR2", "st": "pancreatic acinar cell -> t cell (scnormal)", "prob": 0.064, "pval": "p < 0.01"},

      {"lr": "CXCL12 - ACKR3", "st": "pancreatic acinar cell -> fibroblast (scdisease)", "prob": 0.277, "pval": "p < 0.01"},
      {"lr": "CXCL12 - ACKR3", "st": "pancreatic acinar cell -> myeloid cell (scdisease)", "prob": 0.58, "pval": "p < 0.01"},
      {"lr": "CXCL12 - ACKR3", "st": "pancreatic acinar cell -> pancreatic acinar cell (scdisease)", "prob": 0.947, "pval": "p < 0.01"},
      {"lr": "CXCL12 - ACKR3", "st": "pancreatic acinar cell -> pancreatic acinar cell (scnormal)", "prob": 0.947, "pval": "p < 0.01"},
      {"lr": "CXCL12 - ACKR3", "st": "pancreatic acinar cell -> pancreatic ductal cell (scdisease)", "prob": 0.603, "pval": "p < 0.01"},
      {"lr": "CXCL12 - ACKR3", "st": "pancreatic acinar cell -> pancreatic ductal cell (scnormal)", "prob": 0.603, "pval": "p < 0.01"},
      {"lr": "CXCL12 - ACKR3", "st": "pancreatic acinar cell -> pancreatic stellate cell (scdisease)", "prob": 0.433, "pval": "p < 0.01"},
      {"lr": "CXCL12 - ACKR3", "st": "pancreatic acinar cell -> pancreatic stellate cell (scnormal)", "prob": 0.418, "pval": "p < 0.01"},

      {"lr": "CCL5 - CCR1", "st": "pancreatic acinar cell -> myeloid cell (scdisease)", "prob": 0.361, "pval": "p < 0.01"},
      {"lr": "CCL5 - CCR1", "st": "pancreatic acinar cell -> myeloid cell (scnormal)", "prob": 0.395, "pval": "p < 0.01"},
      {"lr": "CCL5 - CCR1", "st": "pancreatic acinar cell -> nk cell (scdisease)", "prob": 0.105, "pval": "0.01 < p < 0.05"},
      {"lr": "CCL5 - CCR1", "st": "pancreatic acinar cell -> nk cell (scnormal)", "prob": 0.161, "pval": "p < 0.01"},
      {"lr": "CCL5 - CCR1", "st": "pancreatic acinar cell -> pancreatic stellate cell (scdisease)", "prob": 0.165, "pval": "p < 0.01"},
      {"lr": "CCL5 - CCR1", "st": "pancreatic acinar cell -> plasma cell (scnormal)", "prob": 0.155, "pval": "p < 0.01"},
      {"lr": "CCL5 - CCR1", "st": "pancreatic acinar cell -> t cell (scdisease)", "prob": 0.18, "pval": "p < 0.01"},
      {"lr": "CCL5 - CCR1", "st": "pancreatic acinar cell -> t cell (scnormal)", "prob": 0.232, "pval": "p < 0.01"},

      {"lr": "CCL14 - CCR1", "st": "pancreatic acinar cell -> myeloid cell (scdisease)", "prob": 0.345, "pval": "p < 0.01"},
      {"lr": "CCL14 - CCR1", "st": "pancreatic acinar cell -> myeloid cell (scnormal)", "prob": 0.343, "pval": "p < 0.01"},

      {"lr": "C3 - CR2", "st": "pancreatic acinar cell -> b cell (scdisease)", "prob": 0.251, "pval": "p < 0.01"},
      {"lr": "C3 - CR2", "st": "pancreatic acinar cell -> b cell (scnormal)", "prob": 0.203, "pval": "p < 0.01"},
      {"lr": "C3 - CR2", "st": "pancreatic acinar cell -> mast cell (scnormal)", "prob": 0.17, "pval": "p < 0.01"},
      {"lr": "C3 - CR2", "st": "pancreatic acinar cell -> myeloid cell (scdisease)", "prob": 0.251, "pval": "p < 0.01"},
      {"lr": "C3 - CR2", "st": "pancreatic acinar cell -> nk cell (scnormal)", "prob": 0.11, "pval": "p < 0.01"},
      {"lr": "C3 - CR2", "st": "pancreatic acinar cell -> pancreatic beta cell (scdisease)", "prob": 0.148, "pval": "p < 0.01"},
      {"lr": "C3 - CR2", "st": "pancreatic acinar cell -> pancreatic delta cell (scdisease)", "prob": 0.094, "pval": "p < 0.01"},
      {"lr": "C3 - CR2", "st": "pancreatic acinar cell -> pancreatic pp cell (scnormal)", "prob": 0.142, "pval": "p < 0.01"},
      {"lr": "C3 - CR2", "st": "pancreatic acinar cell -> plasma cell (scdisease)", "prob": 0.148, "pval": "p < 0.01"},
      {"lr": "C3 - CR2", "st": "pancreatic acinar cell -> plasma cell (scnormal)", "prob": 0.148, "pval": "p < 0.01"},
      {"lr": "C3 - CR2", "st": "pancreatic acinar cell -> t cell (scnormal)", "prob": 0.232, "pval": "p < 0.01"},

      {"lr": "C3 - C3AR1", "st": "pancreatic acinar cell -> mast cell (scdisease)", "prob": 0.222, "pval": "p < 0.01"},
      {"lr": "C3 - C3AR1", "st": "pancreatic acinar cell -> myeloid cell (scdisease)", "prob": 0.67, "pval": "p < 0.01"},
      {"lr": "C3 - C3AR1", "st": "pancreatic acinar cell -> myeloid cell (scnormal)", "prob": 0.63, "pval": "p < 0.01"},
      {"lr": "C3 - C3AR1", "st": "pancreatic acinar cell -> nk cell (scdisease)", "prob": 0.212, "pval": "0.01 < p < 0.05"},
      {"lr": "C3 - C3AR1", "st": "pancreatic acinar cell -> plasma cell (scdisease)", "prob": 0.21, "pval": "0.01 < p < 0.05"},

      {"lr": "C3 - (ITGAX+ITGB2)", "st": "pancreatic acinar cell -> b cell (scnormal)", "prob": 0.239, "pval": "0.01 < p < 0.05"},
      {"lr": "C3 - (ITGAX+ITGB2)", "st": "pancreatic acinar cell -> myeloid cell (scdisease)", "prob": 0.58, "pval": "p < 0.01"},
      {"lr": "C3 - (ITGAX+ITGB2)", "st": "pancreatic acinar cell -> myeloid cell (scnormal)", "prob": 0.58, "pval": "p < 0.01"},
      {"lr": "C3 - (ITGAX+ITGB2)", "st": "pancreatic acinar cell -> nk cell (scdisease)", "prob": 0.222, "pval": "p < 0.01"},
      {"lr": "C3 - (ITGAX+ITGB2)", "st": "pancreatic acinar cell -> nk cell (scnormal)", "prob": 0.212, "pval": "0.01 < p < 0.05"},
      {"lr": "C3 - (ITGAX+ITGB2)", "st": "pancreatic acinar cell -> plasma cell (scnormal)", "prob": 0.21, "pval": "0.01 < p < 0.05"},
      {"lr": "C3 - (ITGAX+ITGB2)", "st": "pancreatic acinar cell -> t cell (scdisease)", "prob": 0.325, "pval": "p < 0.01"},
      {"lr": "C3 - (ITGAX+ITGB2)", "st": "pancreatic acinar cell -> t cell (scnormal)", "prob": 0.325, "pval": "p < 0.01"},

      {"lr": "C3 - (ITGAM+ITGB2)", "st": "pancreatic acinar cell -> mast cell (scnormal)", "prob": 0.193, "pval": "0.01 < p < 0.05"},
      {"lr": "C3 - (ITGAM+ITGB2)", "st": "pancreatic acinar cell -> myeloid cell (scdisease)", "prob": 0.616, "pval": "p < 0.01"},
      {"lr": "C3 - (ITGAM+ITGB2)", "st": "pancreatic acinar cell -> myeloid cell (scnormal)", "prob": 0.63, "pval": "p < 0.01"},
      {"lr": "C3 - (ITGAM+ITGB2)", "st": "pancreatic acinar cell -> nk cell (scdisease)", "prob": 0.222, "pval": "p < 0.01"},
      {"lr": "C3 - (ITGAM+ITGB2)", "st": "pancreatic acinar cell -> nk cell (scnormal)", "prob": 0.225, "pval": "p < 0.01"},
      {"lr": "C3 - (ITGAM+ITGB2)", "st": "pancreatic acinar cell -> plasma cell (scdisease)", "prob": 0.21, "pval": "0.01 < p < 0.05"},
      {"lr": "C3 - (ITGAM+ITGB2)", "st": "pancreatic acinar cell -> plasma cell (scnormal)", "prob": 0.21, "pval": "0.01 < p < 0.05"},
      {"lr": "C3 - (ITGAM+ITGB2)", "st": "pancreatic acinar cell -> t cell (scdisease)", "prob": 0.325, "pval": "p < 0.01"},
      {"lr": "C3 - (ITGAM+ITGB2)", "st": "pancreatic acinar cell -> t cell (scnormal)", "prob": 0.325, "pval": "p < 0.01"},

      {"lr": "BTLA - TNFRSF14", "st": "pancreatic acinar cell -> endothelial cell (scdisease)", "prob": 0.277, "pval": "p < 0.01"},
      {"lr": "BTLA - TNFRSF14", "st": "pancreatic acinar cell -> endothelial cell (scnormal)", "prob": 0.264, "pval": "p < 0.01"},
      {"lr": "BTLA - TNFRSF14", "st": "pancreatic acinar cell -> myeloid cell (scdisease)", "prob": 0.277, "pval": "p < 0.01"},
      {"lr": "BTLA - TNFRSF14", "st": "pancreatic acinar cell -> myeloid cell (scnormal)", "prob": 0.27, "pval": "p < 0.01"},
      {"lr": "BTLA - TNFRSF14", "st": "pancreatic acinar cell -> plasma cell (scdisease)", "prob": 0.142, "pval": "p < 0.01"}
    ]
  },
  "layer": [
    {
      "data": {"name": "pairs"},
      "mark": {"type": "rule", "color": "#ebebeb", "strokeWidth": 1},
      "encoding": {
        "x": {
          "field": "data",
          "type": "nominal",
          "bandPosition": 1,
          "scale": {
            "type": "band", "paddingInner": 0, "paddingOuter": 0.1,
            "domain": [
              "pancreatic acinar cell -> b cell (scdisease)", "pancreatic acinar cell -> b cell (scnormal)",
              "pancreatic acinar cell -> endothelial cell (scdisease)", "pancreatic acinar cell -> endothelial cell (scnormal)",
              "pancreatic acinar cell -> fibroblast (scdisease)", "pancreatic acinar cell -> fibroblast (scnormal)",
              "pancreatic acinar cell -> mast cell (scdisease)", "pancreatic acinar cell -> mast cell (scnormal)",
              "pancreatic acinar cell -> myeloid cell (scdisease)", "pancreatic acinar cell -> myeloid cell (scnormal)",
              "pancreatic acinar cell -> nk cell (scdisease)", "pancreatic acinar cell -> nk cell (scnormal)",
              "pancreatic acinar cell -> pancreatic acinar cell (scdisease)", "pancreatic acinar cell -> pancreatic acinar cell (scnormal)",
              "pancreatic acinar cell -> pancreatic alpha cell (scdisease)", "pancreatic acinar cell -> pancreatic alpha cell (scnormal)",
              "pancreatic acinar cell -> pancreatic beta cell (scdisease)", "pancreatic acinar cell -> pancreatic beta cell (scnormal)",
              "pancreatic acinar cell -> pancreatic delta cell (scdisease)", "pancreatic acinar cell -> pancreatic delta cell (scnormal)",
              "pancreatic acinar cell -> pancreatic ductal cell (scdisease)", "pancreatic acinar cell -> pancreatic ductal cell (scnormal)",
              "pancreatic acinar cell -> pancreatic pp cell (scdisease)", "pancreatic acinar cell -> pancreatic pp cell (scnormal)",
              "pancreatic acinar cell -> pancreatic stellate cell (scdisease)", "pancreatic acinar cell -> pancreatic stellate cell (scnormal)",
              "pancreatic acinar cell -> plasma cell (scdisease)", "pancreatic acinar cell -> plasma cell (scnormal)",
              "pancreatic acinar cell -> t cell (scdisease)", "pancreatic acinar cell -> t cell (scnormal)",
              " "
            ]
          }
        }
      }
    },
    {
      "data": {"name": "lrRows"},
      "mark": {"type": "rule", "color": "#ebebeb", "strokeWidth": 1},
      "encoding": {
        "y": {
          "field": "data",
          "type": "nominal",
          "bandPosition": 1,
          "scale": {
            "type": "band", "paddingInner": 0, "paddingOuter": 0.1,
            "domain": [
              "WNT10B - (FZD1+LRP6)", "WNT1 - (FZD1+LRP6)", "VEGFC - VEGFR2", "VEGFB - VEGFR1",
              "TNFSF13 - TNFRSF13B", "TNFSF10 - TNFRSF10B", "TGFB3 - (TGFBR1+TGFBR2)", "TGFB3 - (ACVR1+TGFBR1)",
              "TGFB2 - (TGFBR1+TGFBR2)", "PPBP - CXCR2", "MIF - ACKR3", "MIF - (CD74+CXCR2)", "MIF - (CD74+CD44)",
              "LTA - TNFRSF1B", "LTA - TNFRSF14", "LGALS9 - HAVCR2", "LGALS9 - CD45", "KITL - KIT",
              "IL7 - (IL7R+IL2RG)", "IL34 - CSF1R", "IL16 - CD4", "IGF2 - (ITGAV+ITGB3)", "IGF1 - (ITGAV+ITGB3)",
              "GZMA - PARD3", "GZMA - F2R", "GRN - SORT1", "EGF - EGFR", "CXCL8 - CXCR2", "CXCL6 - CXCR2",
              "CXCL5 - CXCR2", "CXCL12 - ACKR3", "CCL5 - CCR1", "CCL14 - CCR1", "C3 - CR2", "C3 - C3AR1",
              "C3 - (ITGAX+ITGB2)", "C3 - (ITGAM+ITGB2)", "BTLA - TNFRSF14"
            ]
          }
        }
      }
    },
    {
      "data": {"name": "groupEnds"},
      "mark": {"type": "rule", "color": "#a8a8a8", "strokeWidth": 1, "strokeDash": [5, 4]},
      "encoding": {
        "x": {"field": "data", "type": "nominal", "bandPosition": 1}
      }
    },
    {
      "data": {"name": "bubbles"},
      "mark": {"type": "circle", "opacity": 1},
      "encoding": {
        "x": {
          "field": "st",
          "type": "nominal",
          "axis": {
            "title": null,
            "grid": false,
            "labelAngle": -45,
            "labelAlign": "right",
            "labelBaseline": "middle",
            "labelFontSize": 13.8,
            "labelLimit": 400,
            "labelPadding": 3,
            "labelColor": {
              "condition": {"test": "indexof(datum.value, '(scdisease)') >= 0", "value": "#F8766D"},
              "value": "#00BFC4"
            },
            "tickColor": "#333333",
            "tickSize": 5,
            "domainColor": "#888888",
            "domainWidth": 1.5
          }
        },
        "y": {
          "field": "lr",
          "type": "nominal",
          "axis": {
            "title": null,
            "grid": false,
            "labelFontSize": 13,
            "labelColor": "#1a1a1a",
            "labelLimit": 300,
            "labelPadding": 4,
            "tickColor": "#333333",
            "tickSize": 5,
            "domainColor": "#888888",
            "domainWidth": 1.5
          }
        },
        "color": {
          "field": "prob",
          "type": "quantitative",
          "scale": {
            "interpolate": "rgb",
            "domain": [0, 0.1111, 0.2222, 0.3333, 0.4444, 0.5556, 0.6667, 0.7778, 0.8889, 1],
            "range": ["#5E4FA2", "#3288BD", "#66C2A5", "#ABDDA4", "#E6F598", "#FEE08B", "#FDAE61", "#F46D43", "#D53E4F", "#9E0142"]
          },
          "legend": {
            "title": "Commun. Prob.",
            "orient": "none",
            "legendX": 1599,
            "legendY": 168,
            "direction": "vertical",
            "gradientLength": 143,
            "gradientThickness": 12,
            "gradientStrokeColor": "#dddddd",
            "gradientStrokeWidth": 0.5,
            "values": [0, 1],
            "labelExpr": "datum.value > 0.5 ? 'max' : 'min'",
            "labelOverlap": false,
            "labelFontSize": 10,
            "labelColor": "#333333",
            "labelOffset": 9,
            "titleFontSize": 14,
            "titleFontWeight": "normal",
            "titleColor": "#1a1a1a",
            "titlePadding": 8
          }
        },
        "size": {
          "field": "pval",
          "type": "ordinal",
          "scale": {
            "domain": ["p > 0.05", "0.01 < p < 0.05", "p < 0.01"],
            "range": [11, 144]
          },
          "legend": {
            "title": "p-value",
            "orient": "none",
            "legendX": 1599,
            "legendY": 371,
            "symbolType": "circle",
            "symbolFillColor": "black",
            "symbolStrokeWidth": 0,
            "rowPadding": 17,
            "labelOffset": 4.7,
            "symbolOffset": 17.7,
            "labelFontSize": 10,
            "labelColor": "#333333",
            "titleFontSize": 14,
            "titleFontWeight": "normal",
            "titleColor": "#1a1a1a",
            "titlePadding": 20
          }
        }
      }
    }
  ],
  "config": {
    "font": "Lato",
    "view": {"stroke": "#333333", "strokeWidth": 1}
  }
}
